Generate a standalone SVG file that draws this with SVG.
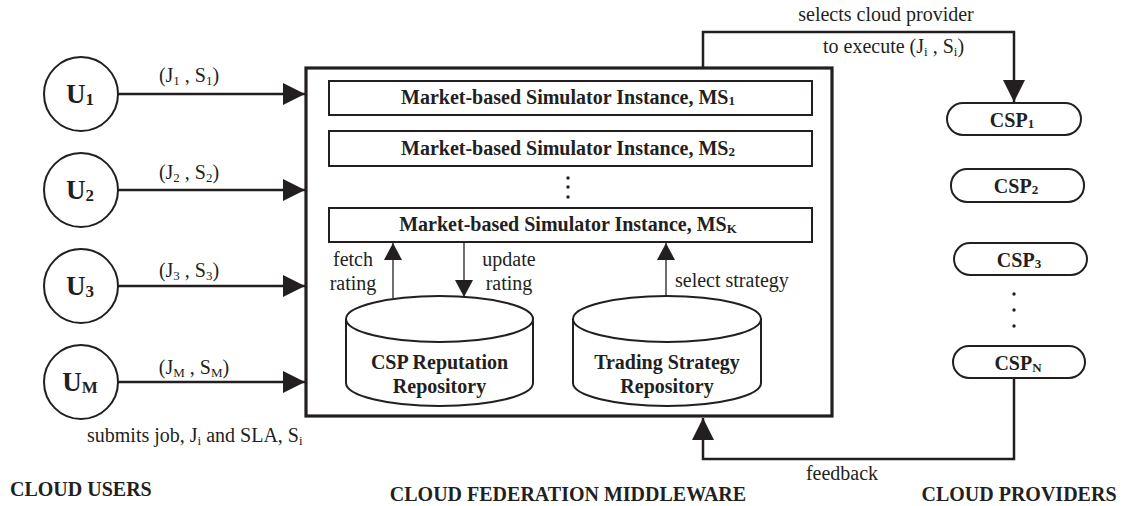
<svg xmlns="http://www.w3.org/2000/svg" width="1127" height="506" viewBox="0 0 1127 506">
  <style>
    text { font-family: "Liberation Serif", "Times New Roman", serif; fill: #231f20; }
    .lbl { font-size: 20px; }
    .user { font-size: 27px; font-weight: bold; }
    .ms { font-size: 20px; font-weight: bold; }
    .db { font-size: 20px; font-weight: bold; }
    .csp { font-size: 20px; font-weight: bold; }
    .title { font-size: 20px; font-weight: bold; }
    .shape { fill: #fff; stroke: #231f20; stroke-width: 2; }
    .conn { fill: none; stroke: #231f20; stroke-width: 2.5; }
    .thin { fill: none; stroke: #231f20; stroke-width: 1.3; }
    .dot { fill: #231f20; }
  </style>
  <defs>
    <marker id="big" markerUnits="userSpaceOnUse" markerWidth="22" markerHeight="22" refX="22" refY="11" orient="auto">
      <path d="M0,0 L22,11 L0,22 Z" fill="#231f20"/>
    </marker>
    <marker id="small" markerUnits="userSpaceOnUse" markerWidth="17" markerHeight="18" refX="17" refY="9" orient="auto">
      <path d="M0,0 L17,9 L0,18 Z" fill="#231f20"/>
    </marker>
  </defs>

  <rect width="1127" height="506" fill="#fff"/>

  <!-- connectors -->
  <g id="connectors">
    <line class="conn" x1="118" y1="94" x2="305" y2="94" marker-end="url(#big)"/>
    <line class="conn" x1="118" y1="190" x2="305" y2="190" marker-end="url(#big)"/>
    <line class="conn" x1="118" y1="286" x2="305" y2="286" marker-end="url(#big)"/>
    <line class="conn" x1="118" y1="382" x2="305" y2="382" marker-end="url(#big)"/>
    <path class="conn" d="M703,67 V32 H1014 V102" marker-end="url(#big)"/>
    <path class="conn" d="M1014,378 V459 H703 V418" marker-end="url(#big)"/>
    <line class="thin" x1="393" y1="298" x2="393" y2="243" marker-end="url(#small)"/>
    <line class="thin" x1="464" y1="243" x2="464" y2="297" marker-end="url(#small)"/>
    <line class="thin" x1="666" y1="298" x2="666" y2="243" marker-end="url(#small)"/>
  </g>

  <!-- connector labels -->
  <g id="connector-labels" class="lbl">
    <text x="189" y="82" text-anchor="middle">(J<tspan font-size="13" dy="3">1</tspan><tspan dy="-3"> , S</tspan><tspan font-size="13" dy="3">1</tspan><tspan dy="-3">)</tspan></text>
    <text x="189" y="179" text-anchor="middle">(J<tspan font-size="13" dy="3">2</tspan><tspan dy="-3"> , S</tspan><tspan font-size="13" dy="3">2</tspan><tspan dy="-3">)</tspan></text>
    <text x="189" y="277" text-anchor="middle">(J<tspan font-size="13" dy="3">3</tspan><tspan dy="-3"> , S</tspan><tspan font-size="13" dy="3">3</tspan><tspan dy="-3">)</tspan></text>
    <text x="194" y="374" text-anchor="middle">(J<tspan font-size="13" dy="3">M</tspan><tspan dy="-3"> , S</tspan><tspan font-size="13" dy="3">M</tspan><tspan dy="-3">)</tspan></text>
    <text x="87" y="442">submits job, J<tspan font-size="13" dy="3">i</tspan><tspan dy="-3"> and SLA, S</tspan><tspan font-size="13" dy="3">i</tspan></text>
    <text x="886" y="21" text-anchor="middle">selects cloud provider</text>
    <text x="823" y="53">to execute  (J<tspan font-size="13" dy="3">i</tspan><tspan dy="-3"> , S</tspan><tspan font-size="13" dy="3">i</tspan><tspan dy="-3">)</tspan></text>
    <text x="353" y="266" text-anchor="middle">fetch</text>
    <text x="353" y="290" text-anchor="middle">rating</text>
    <text x="509" y="266" text-anchor="middle">update</text>
    <text x="509" y="290" text-anchor="middle">rating</text>
    <text x="675" y="287">select strategy</text>
    <text x="842" y="480" text-anchor="middle">feedback</text>
  </g>

  <!-- cloud users -->
  <g id="user-1">
    <circle class="shape" cx="81" cy="94" r="37"/>
    <text class="user" x="80" y="103" text-anchor="middle">U<tspan font-size="17" dy="2">1</tspan></text>
  </g>
  <g id="user-2">
    <circle class="shape" cx="81" cy="190" r="37"/>
    <text class="user" x="80" y="199" text-anchor="middle">U<tspan font-size="17" dy="2">2</tspan></text>
  </g>
  <g id="user-3">
    <circle class="shape" cx="81" cy="286" r="37"/>
    <text class="user" x="80" y="295" text-anchor="middle">U<tspan font-size="17" dy="2">3</tspan></text>
  </g>
  <g id="user-m">
    <circle class="shape" cx="81" cy="382" r="37"/>
    <text class="user" x="80" y="391" text-anchor="middle">U<tspan font-size="17" dy="2">M</tspan></text>
  </g>

  <!-- middleware -->
  <g id="middleware">
    <rect x="306" y="68" width="526" height="348" fill="none" stroke="#231f20" stroke-width="3.2"/>
  </g>
  <g id="ms-1">
    <rect class="shape" x="329" y="81" width="483" height="34"/>
    <text class="ms" x="568" y="104" text-anchor="middle">Market-based Simulator Instance, MS<tspan font-size="13" dy="1">1</tspan></text>
  </g>
  <g id="ms-2">
    <rect class="shape" x="329" y="131" width="483" height="35"/>
    <text class="ms" x="568" y="155" text-anchor="middle">Market-based Simulator Instance, MS<tspan font-size="13" dy="1">2</tspan></text>
  </g>
  <g id="ms-dots">
    <circle class="dot" cx="568" cy="178" r="1.7"/>
    <circle class="dot" cx="568" cy="187" r="1.7"/>
    <circle class="dot" cx="568" cy="197" r="1.7"/>
  </g>
  <g id="ms-k">
    <rect class="shape" x="329" y="208" width="483" height="34"/>
    <text class="ms" x="568" y="231" text-anchor="middle">Market-based Simulator Instance, MS<tspan font-size="13" dy="2">K</tspan></text>
  </g>

  <g id="reputation-repo">
    <path class="shape" d="M346,319 V383 A93.5,23 0 0 0 533,383 V319"/>
    <ellipse class="shape" cx="439.5" cy="319" rx="93.5" ry="23"/>
    <text class="db" x="439.5" y="369" text-anchor="middle">CSP Reputation</text>
    <text class="db" x="439.5" y="393" text-anchor="middle">Repository</text>
  </g>
  <g id="strategy-repo">
    <path class="shape" d="M573,319 V383 A94,23 0 0 0 761,383 V319"/>
    <ellipse class="shape" cx="667" cy="319" rx="94" ry="23"/>
    <text class="db" x="667" y="369" text-anchor="middle">Trading Strategy</text>
    <text class="db" x="667" y="393" text-anchor="middle">Repository</text>
  </g>

  <!-- cloud providers -->
  <g id="csp-1">
    <rect class="shape" x="947" y="103" width="134" height="32" rx="16"/>
    <text class="csp" x="1012" y="127" text-anchor="middle">CSP<tspan font-size="13" dy="1">1</tspan></text>
  </g>
  <g id="csp-2">
    <rect class="shape" x="951" y="169" width="133" height="33" rx="16"/>
    <text class="csp" x="1016" y="193" text-anchor="middle">CSP<tspan font-size="13" dy="1">2</tspan></text>
  </g>
  <g id="csp-3">
    <rect class="shape" x="954" y="243" width="133" height="32" rx="16"/>
    <text class="csp" x="1019" y="267" text-anchor="middle">CSP<tspan font-size="13" dy="1">3</tspan></text>
  </g>
  <g id="csp-dots">
    <circle class="dot" cx="1014" cy="294" r="1.7"/>
    <circle class="dot" cx="1014" cy="310" r="1.7"/>
    <circle class="dot" cx="1014" cy="326" r="1.7"/>
  </g>
  <g id="csp-n">
    <rect class="shape" x="953" y="346" width="132" height="32" rx="16"/>
    <text class="csp" x="1018" y="370" text-anchor="middle">CSP<tspan font-size="13" dy="2">N</tspan></text>
  </g>

  <!-- section titles -->
  <g id="titles">
    <text class="title" x="10" y="496">CLOUD USERS</text>
    <text class="title" x="568" y="501" text-anchor="middle">CLOUD FEDERATION MIDDLEWARE</text>
    <text class="title" x="1019" y="501" text-anchor="middle">CLOUD PROVIDERS</text>
  </g>
</svg>
